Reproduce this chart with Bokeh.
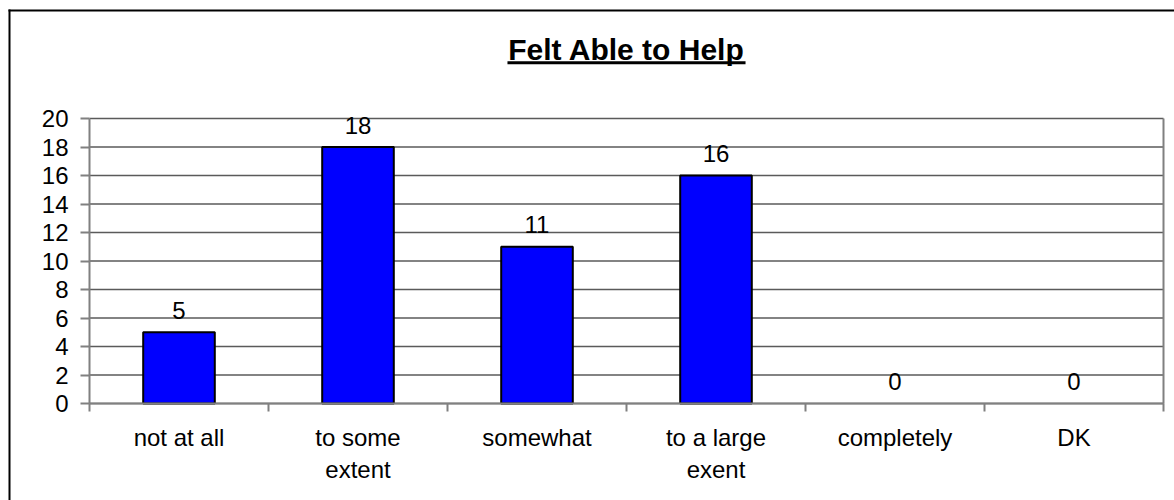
from bokeh.plotting import figure
from bokeh.models import ColumnDataSource, FixedTicker, Range1d, Label, BoxAnnotation
from bokeh.core.properties import value
from bokeh.embed import file_html
from bokeh.resources import INLINE

categories = ["not at all", "to some\nextent", "somewhat", "to a large\nexent", "completely", "DK"]
counts = [5, 18, 11, 16, 0, 0]
y_ticks = list(range(0, 21, 2))
title_text = "Felt Able to Help"

FONT = "Liberation Sans"
W, H = 1174, 500
# plot-area placement in pixels (layout only)
PL, PR, PT, PB = 89, 1163, 118, 403
n = len(categories)
ymax = max(y_ticks)
xs = (PR - PL) / n          # px per category
ys = (PB - PT) / ymax       # px per unit


def dx(px):
    return (px - PL) / xs


def dy(py):
    return (PB - py) / ys


pos = [i + 0.5 for i in range(n)]
boundaries = list(range(n + 1))
src = ColumnDataSource(dict(
    x=pos, top=counts, label=[str(c) for c in counts],
    lc=["black" if c > 0 else None for c in counts],
))

p = figure(width=W, height=H, output_backend="svg", toolbar_location=None,
           x_range=Range1d(dx(0), dx(W)), y_range=Range1d(dy(H), dy(0)),
           min_border=0, min_border_left=0, min_border_right=0,
           min_border_top=0, min_border_bottom=0)
p.background_fill_color = "white"
p.border_fill_color = "white"
p.outline_line_color = None

# outer chart border (only its top and left edges fall inside the picture)
p.quad(left=[dx(8), dx(8)], right=[dx(10), dx(W)],
       top=[dy(9), dy(9)], bottom=[dy(H), dy(11)],
       fill_color="black", line_color=None)

# plot-area edges and gridlines
p.segment(x0=[0] * len(y_ticks), x1=[n] * len(y_ticks), y0=y_ticks, y1=y_ticks,
          line_color="#5a5a5a", line_width=1.5)
p.segment(x0=[n], x1=[n], y0=[0], y1=[ymax], line_color="#808080", line_width=2)

p.vbar(x="x", top="top", width=0.4, source=src, fill_color="#0000FF",
       line_color="lc", line_width=2)
p.text(x="x", y="top", text="label", source=src, text_align="center",
       text_baseline="middle", y_offset=-22, text_font=value(FONT),
       text_font_size="24px", text_color="black")

# x axis
xa = p.xaxis[0]
xa.fixed_location = 0
xa.bounds = (0, n)
xa.ticker = FixedTicker(ticks=pos, minor_ticks=boundaries)
xa.major_label_overrides = {x: c for x, c in zip(pos, categories)}
xa.major_tick_out = 0
xa.major_tick_in = 0
xa.minor_tick_out = 8
xa.minor_tick_in = 0
xa.minor_tick_line_color = "#808080"
xa.minor_tick_line_width = 2
xa.axis_line_color = "#808080"
xa.axis_line_width = 2
xa.major_label_standoff = 12
xa.major_label_text_font = FONT
xa.major_label_text_font_size = "24px"
xa.major_label_text_color = "black"

# y axis
ya = p.yaxis[0]
ya.fixed_location = 0
ya.bounds = (0, ymax)
ya.ticker = FixedTicker(ticks=y_ticks, minor_ticks=[])
ya.major_tick_out = 9
ya.major_tick_in = 0
ya.major_tick_line_color = "#808080"
ya.major_tick_line_width = 2
ya.axis_line_color = "#808080"
ya.axis_line_width = 2
ya.major_label_standoff = 12
ya.major_label_text_font = FONT
ya.major_label_text_font_size = "24px"
ya.major_label_text_color = "black"

p.xgrid.visible = False
p.ygrid.visible = False

# title with underline
p.add_layout(Label(x=n / 2, y=dy(49), text=title_text, text_align="center",
                   text_baseline="middle", text_font=FONT, text_font_style="bold",
                   text_font_size="30px", text_color="black"))
p.add_layout(BoxAnnotation(left=n / 2 - 0.665, right=n / 2 + 0.665,
                           bottom=dy(63.7), top=dy(60.7),
                           fill_color="black", fill_alpha=1, line_color=None))

open("out.html", "w").write(file_html(p, INLINE))
